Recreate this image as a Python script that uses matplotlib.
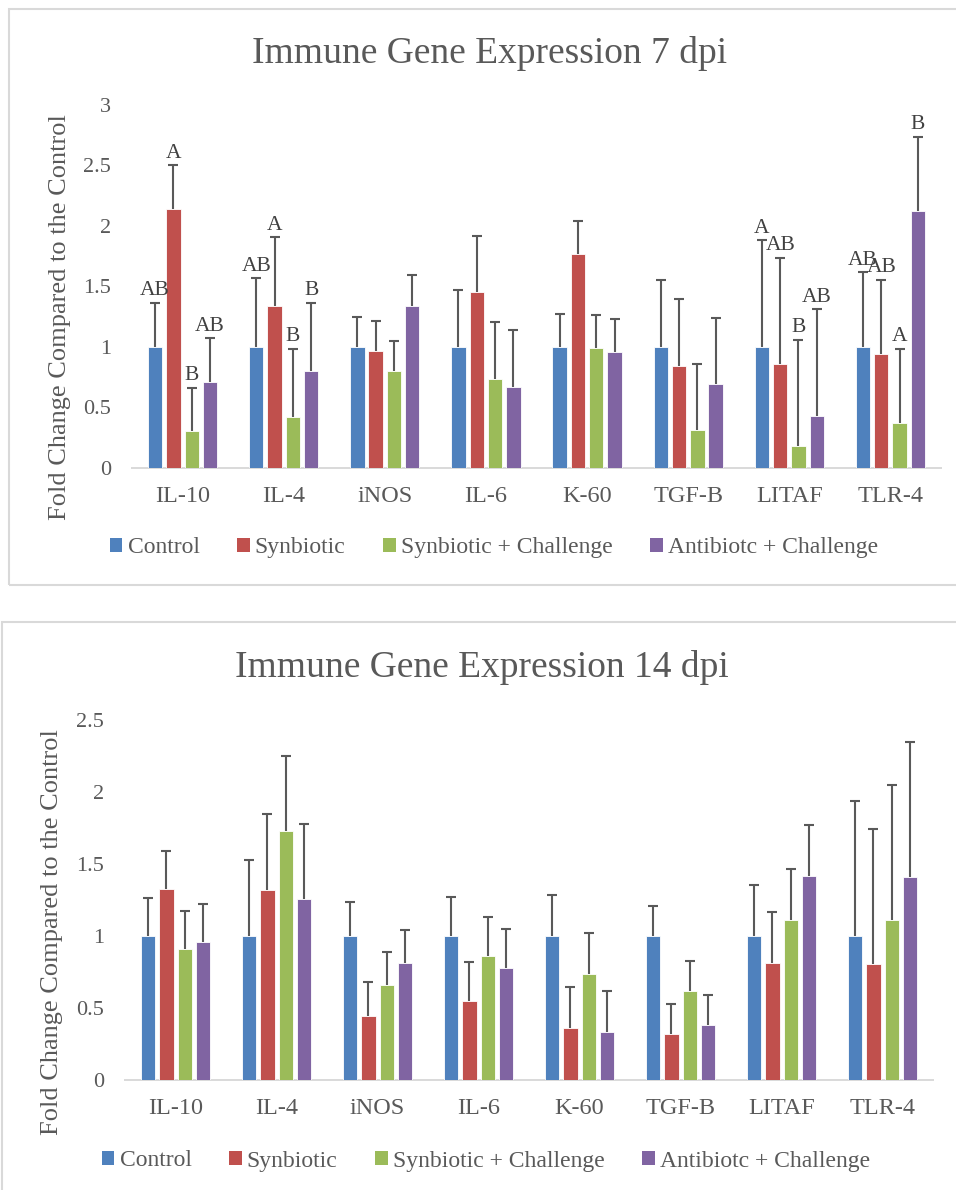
import numpy as np
import matplotlib
matplotlib.use("Agg")
import matplotlib.pyplot as plt
from matplotlib.patches import Rectangle, Patch
from matplotlib.ticker import FuncFormatter

plt.rcParams['font.family'] = ['Liberation Serif', 'DejaVu Serif']

# data
genes = ["IL-10", "IL-4", "iNOS", "IL-6", "K-60", "TGF-B", "LITAF", "TLR-4"]
groups = ["Control", "Synbiotic", "Synbiotic + Challenge", "Antibiotc + Challenge"]
colors = ["#4F81BD", "#C0504D", "#9BBB59", "#8064A2"]

# 7 dpi
control_7 = [1, 1, 1, 1, 1, 1, 1, 1]
synbiotic_7 = [2.14, 1.34, 0.965, 1.45, 1.77, 0.843, 0.857, 0.937]
syn_chal_7 = [0.30, 0.42, 0.80, 0.735, 0.99, 0.31, 0.18, 0.37]
anti_chal_7 = [0.71, 0.80, 1.34, 0.67, 0.957, 0.69, 0.43, 2.12]
err_7 = [0.36, 0.565, 0.25, 0.47, 0.27, 0.55, 0.88, 0.615]
letters_7 = [
    ["AB", "AB", "", "", "", "", "A", "AB"],
    ["A", "A", "", "", "", "", "AB", "AB"],
    ["B", "B", "", "", "", "", "B", "A"],
    ["AB", "B", "", "", "", "", "AB", "B"],
]

# 14 dpi
control_14 = [1, 1, 1, 1, 1, 1, 1, 1]
synbiotic_14 = [1.324, 1.32, 0.444, 0.546, 0.363, 0.317, 0.81, 0.806]
syn_chal_14 = [0.91, 1.727, 0.657, 0.859, 0.738, 0.618, 1.111, 1.111]
anti_chal_14 = [0.96, 1.255, 0.81, 0.778, 0.333, 0.382, 1.414, 1.41]
err_14 = [0.264, 0.525, 0.234, 0.272, 0.283, 0.211, 0.354, 0.94]

TXT = "#595959"
GRID = "#D9D9D9"


def draw_panel(ax, series, err, ymax, letters=None):
    x = np.arange(len(genes))
    width = 0.142
    pitch = 0.181
    offsets = (np.arange(len(series)) - 1.5) * pitch
    for i, vals in enumerate(series):
        vals = np.array(vals)
        xs = x + offsets[i]
        ax.bar(xs, vals, width, color=colors[i], edgecolor="white", linewidth=0.6, zorder=2)
        tops = vals + np.array(err)
        # upper error bar only
        ax.vlines(xs, vals, tops, color=TXT, lw=1.5, zorder=3)
        ax.plot(xs, tops, ls="none", marker="_", ms=7.7, mew=1.5, color=TXT, zorder=3)
        if letters is not None:
            for xx, tt, lab in zip(xs, tops, letters[i]):
                if lab:
                    ax.annotate(lab, (xx, tt), xytext=(0, 2), textcoords="offset points",
                                ha="center", va="bottom", fontsize=15.5, color="#404040")
    ax.set_xlim(-0.5, len(genes) - 0.5)
    ax.set_ylim(0, ymax)
    ax.set_yticks(np.arange(0, ymax + 0.01, 0.5))
    ax.yaxis.set_major_formatter(FuncFormatter(lambda v, p: "%g" % v))
    ax.set_xticks(x)
    ax.set_xticklabels(genes)
    for s in ["top", "right", "left"]:
        ax.spines[s].set_visible(False)
    ax.spines["bottom"].set_color(GRID)
    ax.spines["bottom"].set_linewidth(1.4)
    ax.spines["bottom"].set_zorder(1)
    ax.tick_params(axis="both", length=0, colors=TXT)
    ax.tick_params(axis="x", labelsize=17.5, pad=13)
    ax.tick_params(axis="y", labelsize=16, pad=15)


fig = plt.figure(figsize=(9.56, 11.9), dpi=100)

# panel frames
fig.patches.append(Rectangle((0.0094, 0.5084), 1.02, 0.9924 - 0.5084, transform=fig.transFigure,
                             fill=False, edgecolor=GRID, lw=1.5))
fig.patches.append(Rectangle((0.0021, -0.02), 1.02, 0.4776 + 0.02, transform=fig.transFigure,
                             fill=False, edgecolor=GRID, lw=1.5))

ax1 = fig.add_axes([0.1381, 0.6070, 0.8462, 0.3048])
draw_panel(ax1, [control_7, synbiotic_7, syn_chal_7, anti_chal_7], err_7, 3, letters_7)

ax2 = fig.add_axes([0.1308, 0.0924, 0.8452, 0.3025])
draw_panel(ax2, [control_14, synbiotic_14, syn_chal_14, anti_chal_14], err_14, 2.5)

fig.text(0.512, 1 - 63 / 1190, "Immune Gene Expression 7 dpi", ha="center", va="baseline",
         fontsize=27, color=TXT)
fig.text(0.5037, 1 - 677 / 1190, "Immune Gene Expression 14 dpi", ha="center", va="baseline",
         fontsize=27, color=TXT)

fig.text(60 / 956, 1 - 317 / 1190, "Fold Change Compared to the Control", rotation=90,
         ha="center", va="center", fontsize=19, color=TXT)
fig.text(52 / 956, 1 - 932 / 1190, "Fold Change Compared to the Control", rotation=90,
         ha="center", va="center", fontsize=19, color=TXT)

handles = [Patch(facecolor=c, edgecolor="none") for c in colors]
for yc, xc in [(1 - 548 / 1190, 494 / 956), (1 - 1161 / 1190, 486 / 956)]:
    fig.legend(handles, groups, loc="center", bbox_to_anchor=(xc, yc), ncol=4, frameon=False,
               fontsize=17, labelcolor=TXT, handlelength=0.52, handleheight=0.5,
               handletextpad=0.22, columnspacing=1.6, borderpad=0)

fig.savefig("out.png", dpi=100)
